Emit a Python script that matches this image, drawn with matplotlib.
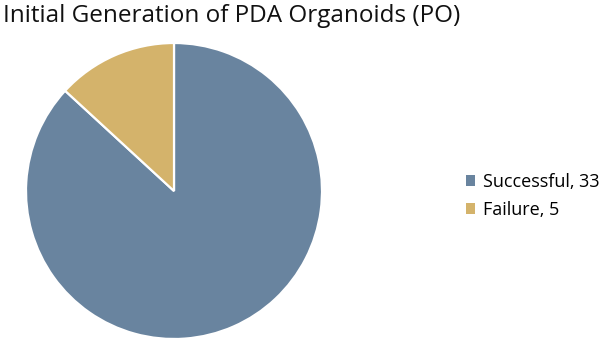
import matplotlib
matplotlib.use('Agg')
import matplotlib.pyplot as plt
from matplotlib.patches import Patch

labels = ['Successful', 'Failure']
counts = [33, 5]
colors = ['#69849f', '#d4b36b']

plt.rcParams['font.family'] = ['Open Sans', 'DejaVu Sans']

W, H = 602, 342
fig = plt.figure(figsize=(W / 100, H / 100), dpi=100, facecolor='white')

# pie box in pixel terms: centre (174, 191), radius 148
ax = fig.add_axes([26 / W, (H - 339) / H, 296 / W, 296 / H])
wedges, _ = ax.pie(counts, colors=colors, startangle=90, counterclock=False,
                   wedgeprops=dict(edgecolor='white', linewidth=1.6))
ax.set_xlim(-1, 1)
ax.set_ylim(-1, 1)
ax.set_aspect('equal')

fig.text(3 / W, 1 - 22 / H, 'Initial Generation of PDA Organoids (PO)',
         fontsize=17.5, color='#111111', ha='left', va='baseline')

handles = [Patch(facecolor=c, edgecolor='none') for c in colors]
leg_labels = [f'{l}, {n}' for l, n in zip(labels, counts)]
fig.legend(handles, leg_labels, loc='center left',
           bbox_to_anchor=(466 / W, 1 - 196 / H), frameon=False,
           fontsize=13, handlelength=0.5, handleheight=0.5,
           handletextpad=0.45, labelspacing=0.55, borderpad=0,
           borderaxespad=0)

fig.savefig('out.png', dpi=100, facecolor='white')
